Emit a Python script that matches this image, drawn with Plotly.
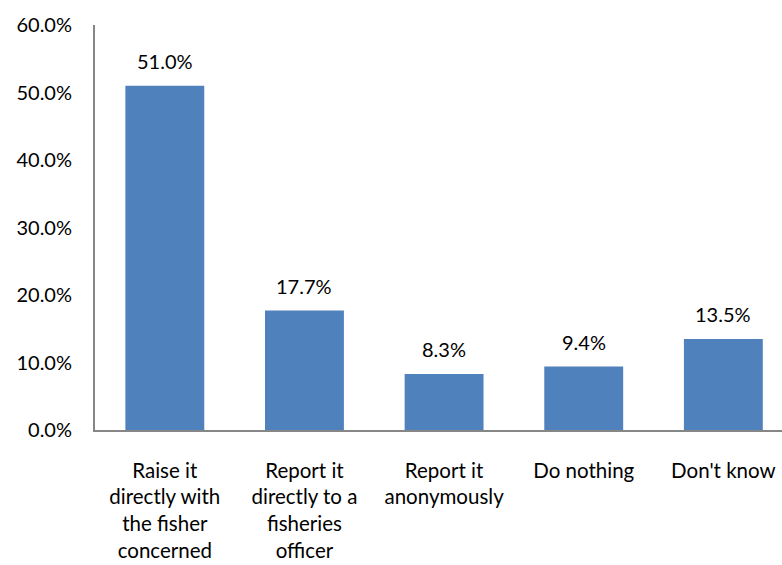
import plotly.graph_objects as go

categories = [
    "Raise it<br>directly with<br>the fisher<br>concerned",
    "Report it<br>directly to a<br>fisheries<br>officer",
    "Report it<br>anonymously",
    "Do nothing",
    "Don't know",
]
values = [51.0, 17.7, 8.3, 9.4, 13.5]
y_ticks = [0, 10, 20, 30, 40, 50, 60]

FONT = "Lato"
BAR_COLOR = "#4F81BD"
AXIS_COLOR = "#868686"

fig = go.Figure()
fig.add_trace(go.Bar(
    x=list(range(len(categories))),
    y=values,
    marker=dict(color=BAR_COLOR, line=dict(width=0)),
    width=0.565,
    hoverinfo="skip",
))

# value labels above each bar
for i, v in enumerate(values):
    fig.add_annotation(
        x=i, y=v, text=f"{v:.1f}%",
        showarrow=False, yanchor="bottom", yshift=11,
        font=dict(family=FONT, size=20, color="#000000"),
    )

fig.update_layout(
    width=782, height=565,
    margin=dict(l=95, r=0, t=25, b=135),
    paper_bgcolor="white", plot_bgcolor="white",
    showlegend=False,
    font=dict(family=FONT, size=20, color="#000000"),
)
fig.update_xaxes(
    range=[-0.5, 4.42],
    tickmode="array",
    tickvals=list(range(len(categories))),
    ticktext=categories,
    showline=True, linecolor=AXIS_COLOR, linewidth=2,
    showgrid=False, zeroline=False, ticks="",
    ticklabelstandoff=21,
    tickfont=dict(family=FONT, size=20.5, color="#000000"),
)
fig.update_yaxes(
    range=[0, 60],
    tickmode="array",
    tickvals=y_ticks,
    ticktext=[f"{t:.1f}%" for t in y_ticks],
    showline=True, linecolor=AXIS_COLOR, linewidth=2,
    showgrid=False, zeroline=False, ticks="",
    ticklabelstandoff=17,
    tickfont=dict(family=FONT, size=20, color="#000000"),
)

fig.write_html("out.html")
